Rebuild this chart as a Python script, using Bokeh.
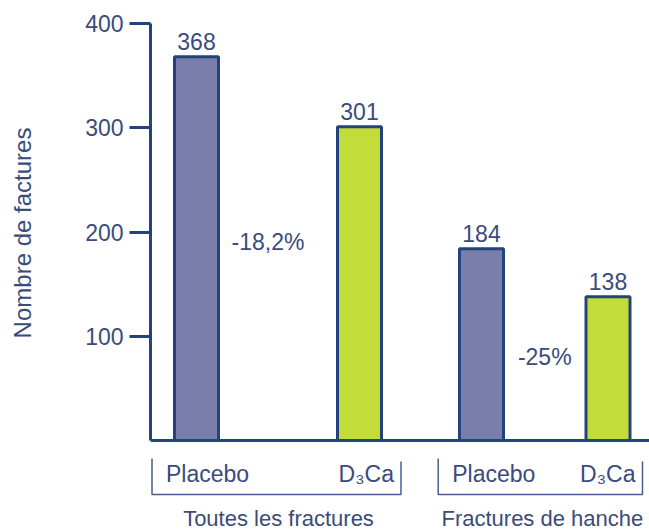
from bokeh.plotting import figure
from bokeh.layouts import column
from bokeh.models import Range1d, FixedTicker, Span
from bokeh.embed import file_html
from bokeh.resources import INLINE
from bokeh.core.properties import value

# --- data -------------------------------------------------------------
groups = ["Toutes les fractures", "Fractures de hanche"]
arms = ["Placebo", "D₃Ca"]
counts_all = [368, 301]
counts_hip = [184, 138]
reductions = ["-18,2%", "-25%"]
y_ticks = [100, 200, 300, 400]

# --- style ------------------------------------------------------------
FONT = "Liberation Sans"
NAVY = "#23427e"
TEXT = "#3a4b7c"
BRACKET = "#4a5c92"
FILLS = ["#7a7eab", "#c2dc3a"]

W, H = 649, 531
LEFT = 150                  # left border (axis area) in px
TOP = 23                    # row of the value 400
CHART_H = 443               # height of the bar chart part
PX = 1.0425                 # px per count

x_range = Range1d(0, W - LEFT)

# ---------------------------------------------------------------- bars
p = figure(width=W, height=CHART_H, output_backend="svg", toolbar_location=None,
           x_range=x_range,
           y_range=Range1d(-(CHART_H - 1 - TOP) / PX + 400, 400),
           x_axis_location=None,
           min_border_left=LEFT, min_border_right=0,
           min_border_top=TOP, min_border_bottom=1,
           background_fill_color="white", border_fill_color="white")
p.outline_line_color = None
p.grid.visible = False

ax = p.yaxis[0]
ax.bounds = (0, 400)
ax.ticker = FixedTicker(ticks=y_ticks)
ax.axis_line_color = NAVY
ax.axis_line_width = 3
ax.major_tick_line_color = NAVY
ax.major_tick_line_width = 3
ax.major_tick_out = 21
ax.major_tick_in = 0
ax.minor_tick_line_color = None
ax.major_label_standoff = 6
ax.major_label_text_font = FONT
ax.major_label_text_font_size = "23px"
ax.major_label_text_color = TEXT
ax.axis_label = "Nombre de factures"
ax.axis_label_text_font = FONT
ax.axis_label_text_font_size = "24px"
ax.axis_label_text_font_style = "normal"
ax.axis_label_text_color = TEXT
ax.axis_label_standoff = 46

bar_x = [46, 209, 331, 457.5]
counts = counts_all + counts_hip
p.vbar(x=bar_x, top=counts, bottom=0, width=44,
       fill_color=FILLS * 2, line_color=NAVY, line_width=3)

# horizontal axis line
p.add_layout(Span(location=0, dimension="width", line_color=NAVY, line_width=3))

# value labels above bars
p.text(x=bar_x, y=[c + 15 / PX for c in counts], text=[str(c) for c in counts],
       text_align="center", text_baseline="middle",
       text_font=value(FONT), text_font_size="23px", text_color=TEXT)

# reduction labels between each pair of bars
pct_x = [(bar_x[0] + bar_x[1]) / 2 - 10, (bar_x[2] + bar_x[3]) / 2]
pct_y = [190, 80]
p.text(x=pct_x, y=pct_y, text=reductions,
       text_align="center", text_baseline="middle",
       text_font=value(FONT), text_font_size="23px", text_color=TEXT)

# ------------------------------------------------------ group brackets
# y in this strip runs in screen rows (top = CHART_H, bottom = H)
q = figure(width=W, height=H - CHART_H, output_backend="svg", toolbar_location=None,
           x_range=x_range, y_range=Range1d(H, CHART_H),
           x_axis_location=None, y_axis_location=None,
           min_border_left=LEFT, min_border_right=0,
           min_border_top=0, min_border_bottom=0,
           background_fill_color="white", border_fill_color="white")
q.outline_line_color = None
q.grid.visible = False

br_left = [1.5, 287.7]
br_right = [250.5, 492]
q.multi_line(xs=[[l, l, r, r] for l, r in zip(br_left, br_right)],
             ys=[[458, 494, 494, 461] for _ in br_left],
             line_color=BRACKET, line_width=1.5)

q.text(x=[l + 14 for l in br_left], y=[473.5] * 2, text=[arms[0]] * 2,
       text_align="left", text_baseline="middle",
       text_font=value(FONT), text_font_size="23px", text_color=TEXT)
q.text(x=[r - 7 for r in br_right], y=[473.5] * 2, text=[arms[1]] * 2,
       text_align="right", text_baseline="middle",
       text_font=value(FONT), text_font_size="23px", text_color=TEXT)

q.text(x=[(l + r) / 2 + 2 for l, r in zip(br_left, br_right)], y=[518] * 2,
       text=groups, text_align="center", text_baseline="middle",
       text_font=value(FONT), text_font_size="22px", text_color=TEXT)

open("out.html", "w").write(file_html(column(p, q, spacing=0), INLINE))
